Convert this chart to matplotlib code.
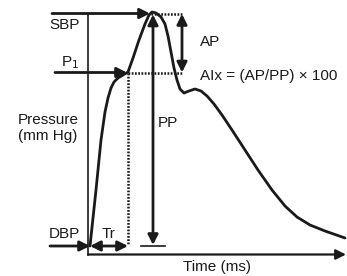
import matplotlib.pyplot as plt

plt.rcParams['font.family'] = ['Liberation Sans', 'DejaVu Sans']

# waveform (x = time position, y = pressure position, pixel units, y downward)
wave_t = [90, 96, 101, 105, 108, 111, 114, 118, 123, 128, 133, 139, 145, 149,
          152, 156, 161, 165, 168, 171, 174, 177, 180, 184, 189, 195, 201, 207,
          214, 222, 232, 245, 258, 272, 285, 297, 310, 325, 345]
wave_p = [246, 190, 140, 112, 98, 88, 82, 78, 75, 72, 58, 40, 24, 15,
          12, 13, 17, 24, 36, 52, 68, 80, 89, 93, 91, 89, 91, 96,
          104, 115, 130, 150, 170, 190, 206, 217, 225, 231, 238]

# key levels
sbp_y = 13.5
p1_y = 72.5
dbp_y = 246
base_y = 254.5
axis_x = 88
foot_x = 90
p1_x = 128
peak_x = 151
pp_x = 153
ap_x = 182

INK = '#1a1a1a'
FS = 11

fig = plt.figure(figsize=(3.47, 2.76), dpi=100)
ax = fig.add_axes([0, 0, 1, 1])
ax.set_xlim(0, 347)
ax.set_ylim(276, 0)
ax.axis('off')


def arrow(tail, tip, style='-|>', lw=2):
    ax.annotate('', xy=tip, xytext=tail,
                arrowprops=dict(arrowstyle=style + ',head_length=0.6,head_width=0.3',
                                lw=lw, color=INK, shrinkA=0, shrinkB=0,
                                mutation_scale=10))


# axes
ax.plot([axis_x, axis_x], [sbp_y, base_y], color=INK, lw=1.2)
arrow((axis_x, base_y), (346, base_y), lw=1.6)

# pressure curve
ax.plot(wave_t, wave_p, color=INK, lw=2, solid_joinstyle='round', solid_capstyle='round')

# dotted guides
dot = dict(color=INK, lw=1.8, linestyle=(0, (0.7, 0.6)))
ax.plot([p1_x, p1_x], [p1_y, dbp_y - 1], **dot)
ax.plot([peak_x, ap_x + 1], [sbp_y, sbp_y], **dot)
ax.plot([p1_x, ap_x + 1], [p1_y, p1_y], **dot)

# arrows
arrow((52, sbp_y), (peak_x - 1, sbp_y))
arrow((55, p1_y), (p1_x - 1, p1_y))
arrow((50, dbp_y), (foot_x, dbp_y))
arrow((foot_x, dbp_y), (p1_x, dbp_y), style='<|-|>')
arrow((pp_x, dbp_y - 1), (pp_x, sbp_y + 1), style='<|-|>')
arrow((ap_x, sbp_y + 0.5), (ap_x, p1_y), style='<|-|>')
ax.plot([141, 165], [dbp_y - 0.5, dbp_y - 0.5], color=INK, lw=1.2)

# labels
ax.text(80, 25, 'SBP', fontsize=FS, ha='right', va='center', color=INK)
ax.text(79, 63, 'P$_1$', fontsize=FS, ha='right', va='center', color=INK)
ax.text(48, 128, 'Pressure\n(mm Hg)', fontsize=FS, ha='center', va='center',
        color=INK, linespacing=1.25)
ax.text(80, 234, 'DBP', fontsize=FS, ha='right', va='center', color=INK)
ax.text(109, 234, 'Tr', fontsize=FS, ha='center', va='center', color=INK)
ax.text(158, 123, 'PP', fontsize=FS, ha='left', va='center', color=INK)
ax.text(200, 42, 'AP', fontsize=FS, ha='left', va='center', color=INK)
ax.text(200, 76, 'AIx = (AP/PP) \u00d7 100', fontsize=FS, ha='left', va='center', color=INK)
ax.text(217, 267, 'Time (ms)', fontsize=FS, ha='center', va='center', color=INK)

fig.savefig('out.png', dpi=100)
